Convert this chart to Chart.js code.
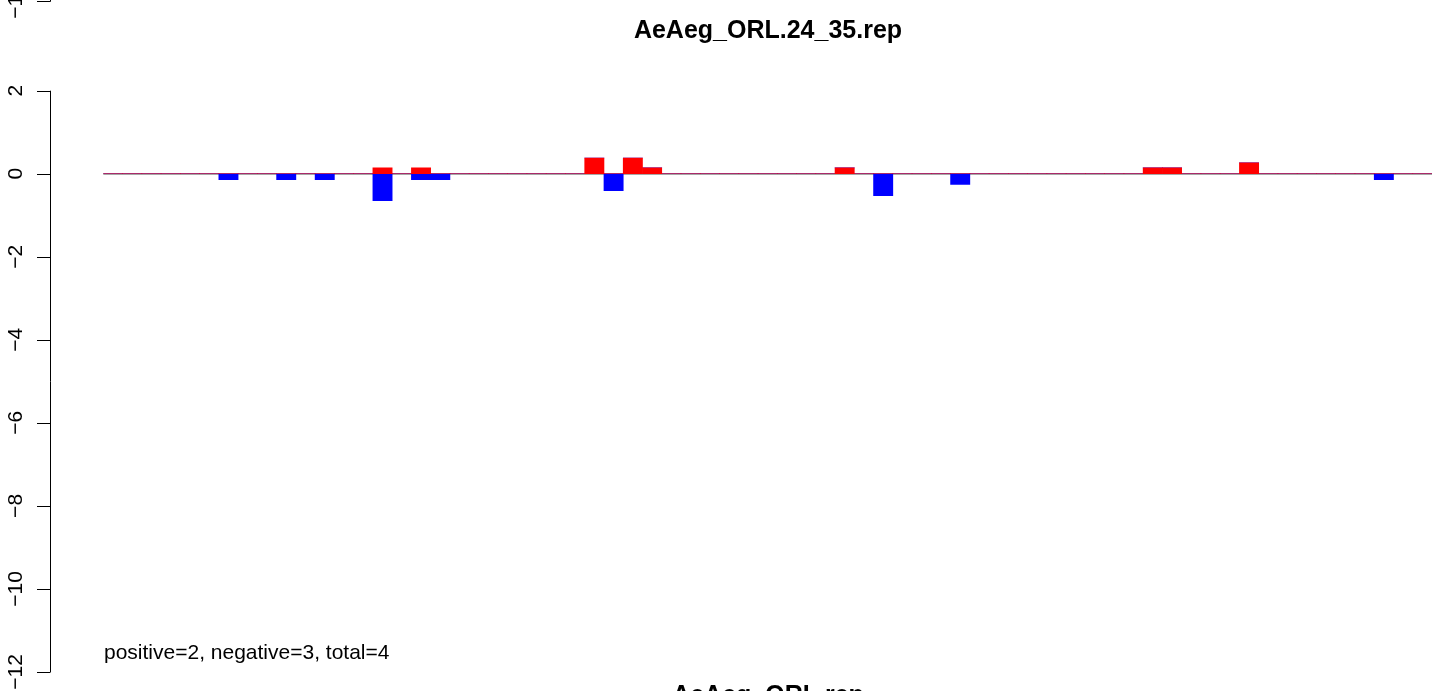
<!DOCTYPE html>
<html>
<head>
<meta charset="utf-8">
<title>AeAeg_ORL.24_35.rep</title>
<script src="https://cdn.jsdelivr.net/npm/chart.js@4.4.0/dist/chart.umd.min.js"></script>
<style>
  html, body { margin: 0; padding: 0; background: #fff; overflow: hidden; }
  canvas { display: block; }
</style>
</head>
<body>
<canvas id="repChart" width="1439" height="691"></canvas>
<script>
// values, one per bar position (69 positions)
const positiveValues = [
  0, 0, 0, 0, 0, 0, 0, 0, 0, 0,
  0, 0, 0, 0, 0.14, 0, 0.14, 0, 0, 0,
  0, 0, 0, 0, 0, 0.38, 0, 0.38, 0.14, 0,
  0, 0, 0, 0, 0, 0, 0, 0, 0.14, 0,
  0, 0, 0, 0, 0, 0, 0, 0, 0, 0,
  0, 0, 0, 0, 0.14, 0.14, 0, 0, 0, 0.26,
  0, 0, 0, 0, 0, 0, 0, 0, 0
];
const negativeValues = [
  0, 0, 0, 0, 0, 0, -0.14, 0, 0, -0.14,
  0, -0.14, 0, 0, -0.65, 0, -0.14, -0.14, 0, 0,
  0, 0, 0, 0, 0, 0, -0.41, 0, 0, 0,
  0, 0, 0, 0, 0, 0, 0, 0, 0, 0,
  -0.53, 0, 0, 0, -0.26, 0, 0, 0, 0, 0,
  0, 0, 0, 0, 0, 0, 0, 0, 0, 0,
  0, 0, 0, 0, 0, 0, -0.14, 0, 0
];
const positions = positiveValues.map((v, i) => String(i + 1));
const yTicks = [2, 0, -2, -4, -6, -8, -10, -12];

const mainTitle = 'AeAeg_ORL.24_35.rep';
const xTitle = 'AeAeg_ORL.rep';
const countsText = 'positive=2, negative=3, total=4';

const FONT = '"Liberation Sans", Arial, Helvetica, sans-serif';

const rDecorations = {
  id: 'rDecorations',
  beforeDatasetsDraw(chart) {
    const { ctx, chartArea, scales } = chart;
    const y0 = Math.round(scales.y.getPixelForValue(0));
    ctx.save();
    ctx.strokeStyle = '#a8a8a8';
    ctx.lineWidth = 2;
    ctx.beginPath();
    ctx.moveTo(chartArea.left, y0);
    ctx.lineTo(chartArea.right, y0);
    ctx.stroke();
    ctx.restore();
  },
  afterDraw(chart) {
    const { ctx, scales } = chart;
    const yScale = scales.y;
    const axisX = 50.5;
    ctx.save();
    ctx.strokeStyle = '#000';
    ctx.fillStyle = '#000';
    ctx.lineWidth = 1;

    // y axis like R's axis(2)
    const yTop = yScale.getPixelForValue(yTicks[0]);
    const yBot = yScale.getPixelForValue(yTicks[yTicks.length - 1]);
    ctx.beginPath();
    ctx.moveTo(axisX, yTop);
    ctx.lineTo(axisX, yBot);
    yTicks.forEach(t => {
      const py = Math.round(yScale.getPixelForValue(t)) + 0.5;
      ctx.moveTo(37, py);
      ctx.lineTo(axisX, py);
    });
    ctx.stroke();

    ctx.font = '21px ' + FONT;
    ctx.textAlign = 'center';
    ctx.textBaseline = 'alphabetic';
    yTicks.forEach(t => {
      const py = yScale.getPixelForValue(t);
      ctx.save();
      ctx.translate(22, py);
      ctx.rotate(-Math.PI / 2);
      ctx.fillText(String(t).replace('-', '\u2212'), 0, 0);
      ctx.restore();
    });

    // leftover of the panel above
    ctx.beginPath();
    ctx.moveTo(axisX, 0);
    ctx.lineTo(axisX, 1.5);
    ctx.moveTo(37, 1.5);
    ctx.lineTo(axisX, 1.5);
    ctx.stroke();
    ctx.save();
    ctx.translate(22, 1);
    ctx.rotate(-Math.PI / 2);
    ctx.fillText('\u221212', 0, 0);
    ctx.restore();

    // titles and counts
    ctx.font = 'bold 25px ' + FONT;
    ctx.fillText(mainTitle, 768, 38);
    ctx.fillText(xTitle, 768, 703);

    ctx.font = '21px ' + FONT;
    ctx.textAlign = 'left';
    ctx.fillText(countsText, 104, 659);
    ctx.restore();
  }
};

new Chart(document.getElementById('repChart'), {
  type: 'bar',
  data: {
    labels: positions,
    datasets: [
      {
        label: 'positive',
        data: positiveValues,
        backgroundColor: '#ff0000',
        borderWidth: 0,
        barPercentage: 1,
        categoryPercentage: 1
      },
      {
        label: 'negative',
        data: negativeValues,
        backgroundColor: '#0000ff',
        borderWidth: 0,
        barPercentage: 1,
        categoryPercentage: 1
      }
    ]
  },
  options: {
    responsive: false,
    animation: false,
    devicePixelRatio: 1,
    layout: {
      padding: { left: 103.3, right: 7, top: 90.7, bottom: 19 }
    },
    scales: {
      x: { display: false, stacked: true, offset: true },
      y: { display: false, stacked: true, min: -12, max: 2 }
    },
    plugins: {
      legend: { display: false },
      tooltip: { enabled: false }
    }
  },
  plugins: [rDecorations]
});
</script>
</body>
</html>
